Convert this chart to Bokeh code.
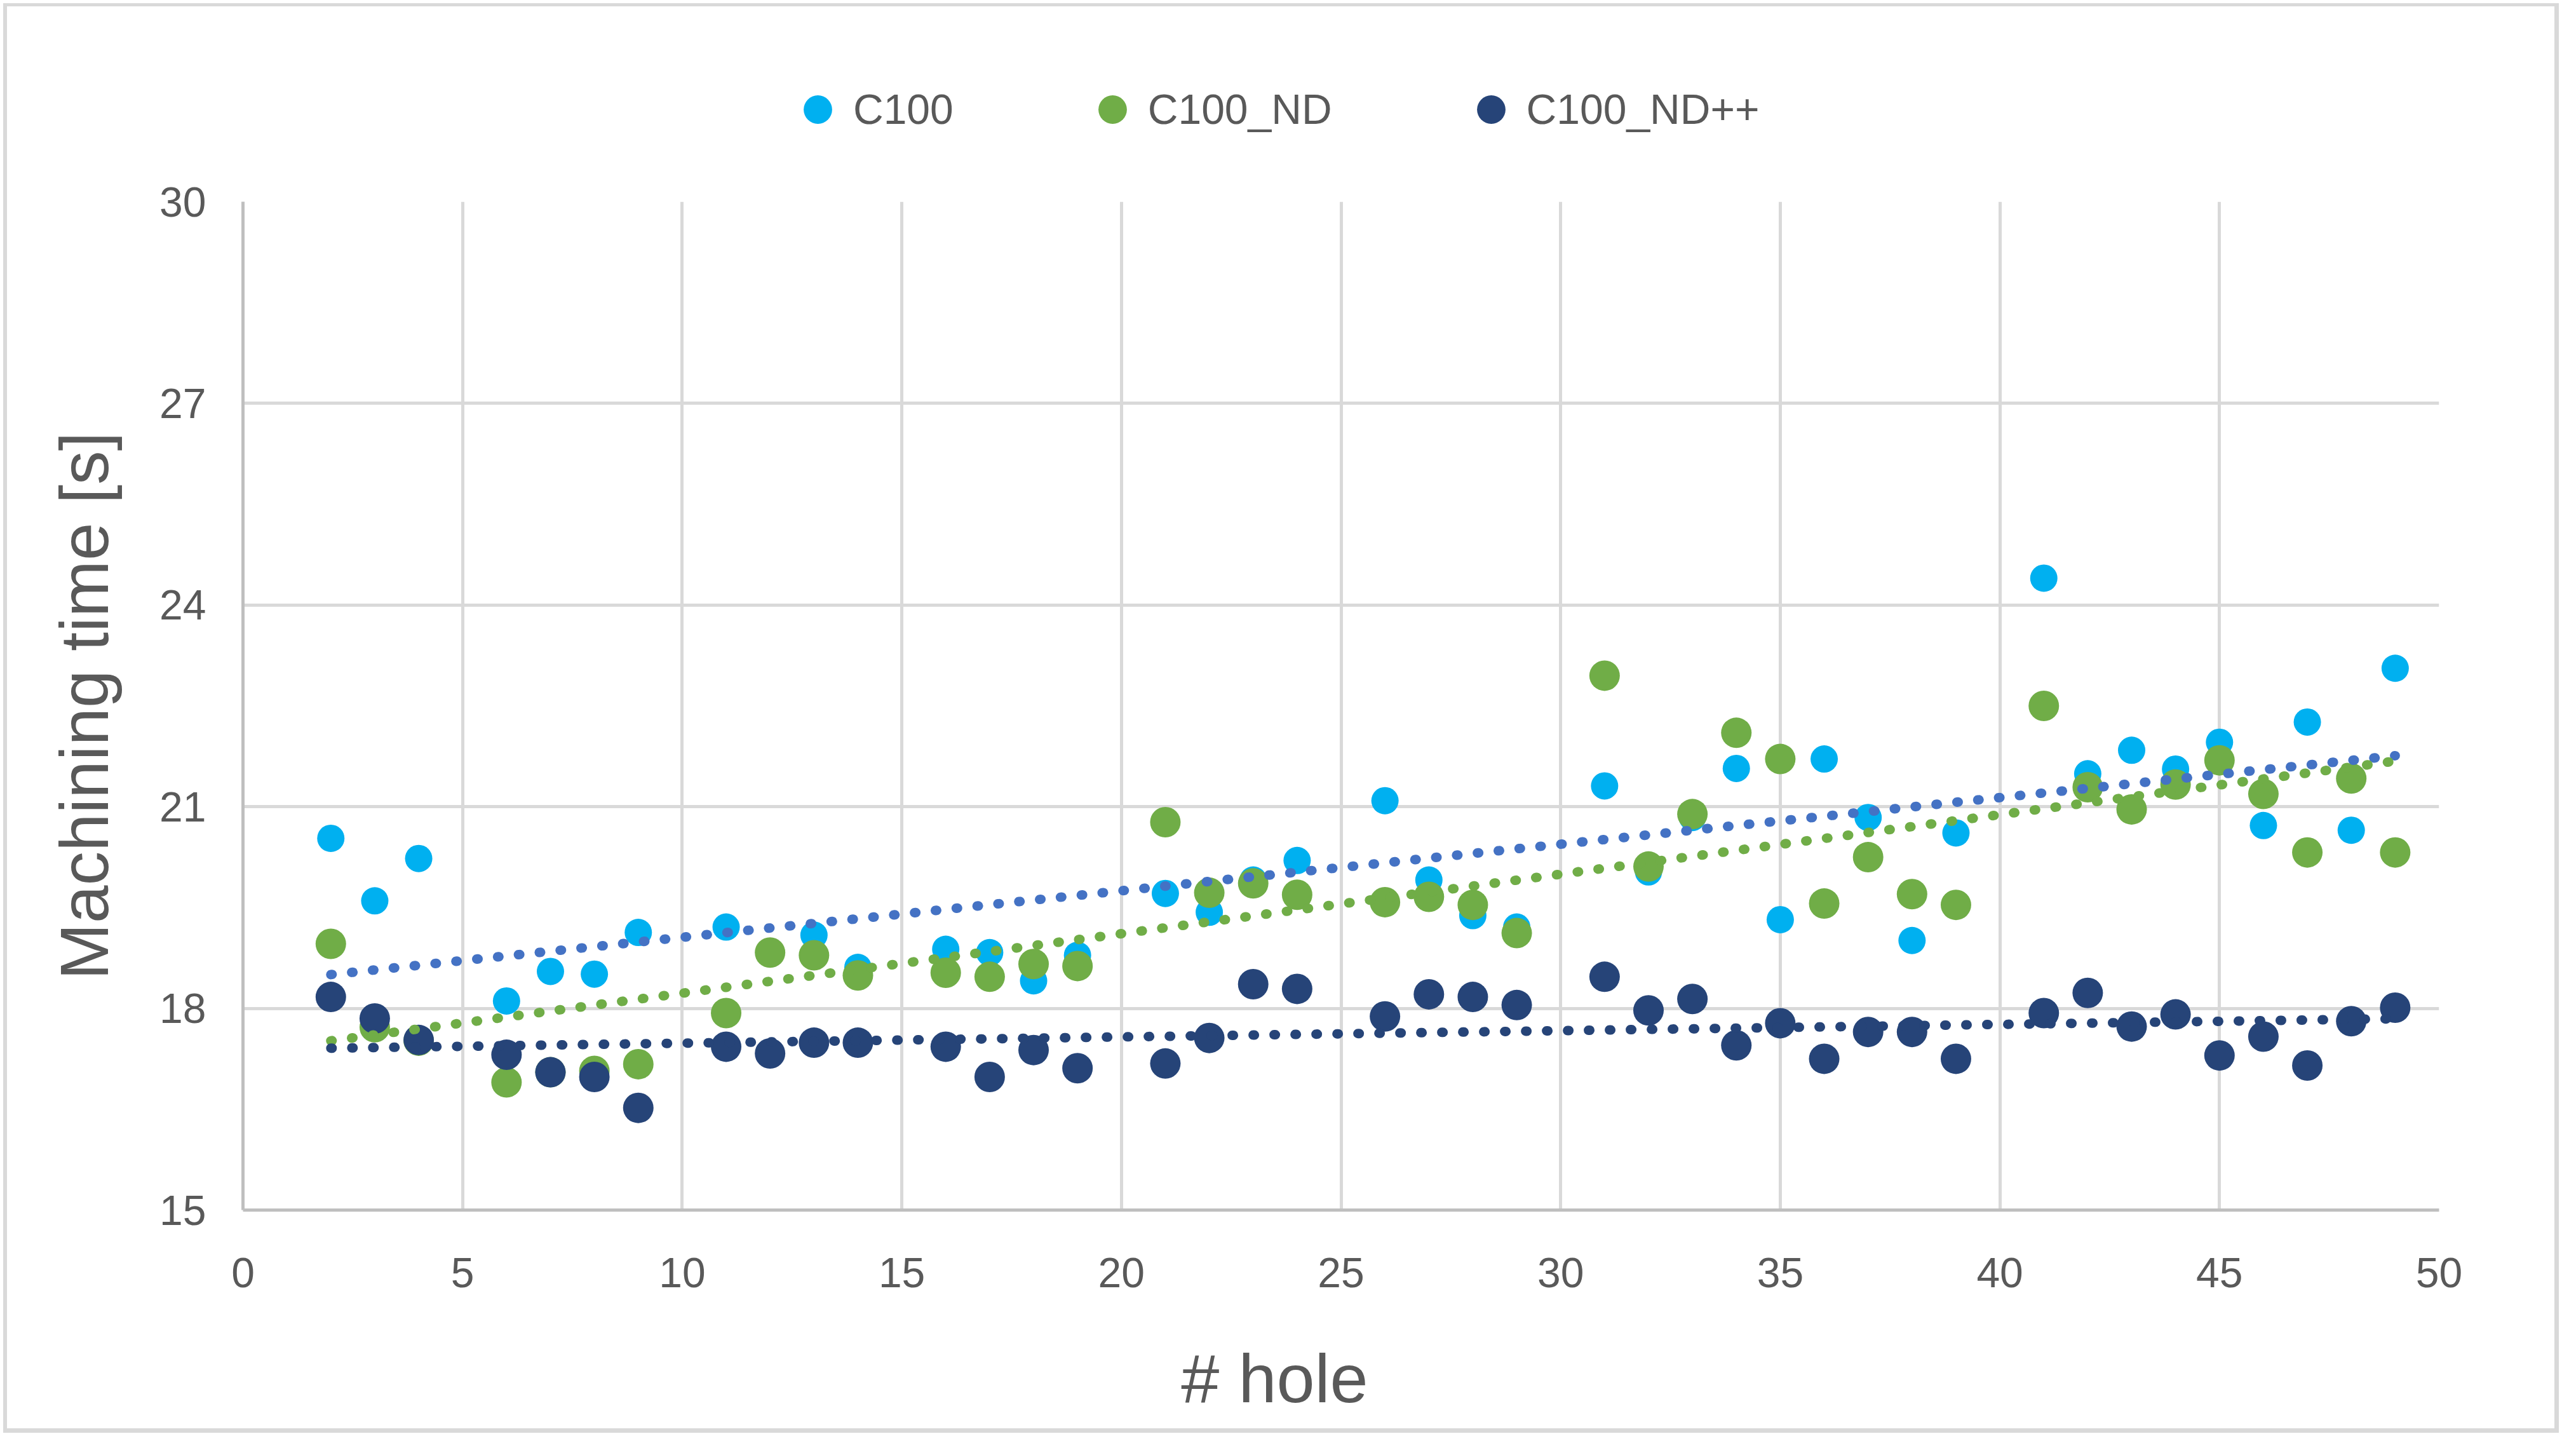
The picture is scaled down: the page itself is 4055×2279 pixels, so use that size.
import numpy as np
from bokeh.plotting import figure
from bokeh.layouts import column
from bokeh.models import Legend, LegendItem, Label, FixedTicker, Range1d
from bokeh.embed import file_html
from bokeh.resources import INLINE

# ---------------- data ----------------
holes_c100 = [2, 3, 4, 6, 7, 8, 9, 11, 13, 14, 16, 17, 18, 19, 21, 22, 23, 24,
              26, 27, 28, 29, 31, 32, 33, 34, 35, 36, 37, 38, 39, 41, 42, 43, 44,
              45, 46, 47, 48, 49]
time_c100 = [20.53, 19.60, 20.23, 18.11, 18.55, 18.51, 19.13, 19.21, 19.09, 18.61,
             18.88, 18.83, 18.41, 18.79, 19.71, 19.43, 19.91, 20.20, 21.09, 19.91,
             19.38, 19.21, 21.31, 20.03, 20.84, 21.57, 19.32, 21.71, 20.84, 19.01,
             20.61, 24.40, 21.49, 21.84, 21.56, 21.96, 20.72, 22.26, 20.65, 23.06]

holes_nd = [2, 3, 4, 6, 7, 8, 9, 11, 12, 13, 14, 16, 17, 18, 19, 21, 22, 23, 24,
            26, 27, 28, 29, 31, 32, 33, 34, 35, 36, 37, 38, 39, 41, 42, 43, 44,
            45, 46, 47, 48, 49]
time_nd = [18.96, 17.72, 17.52, 16.90, 17.05, 17.07, 17.17, 17.93, 18.83, 18.79,
           18.49, 18.53, 18.47, 18.66, 18.63, 20.77, 19.72, 19.86, 19.69, 19.58,
           19.66, 19.54, 19.12, 22.95, 20.11, 20.89, 22.10, 21.71, 19.56, 20.25,
           19.70, 19.54, 22.50, 21.29, 20.96, 21.33, 21.69, 21.19, 20.32, 21.42,
           20.32]

holes_ndpp = [2, 3, 4, 6, 7, 8, 9, 11, 12, 13, 14, 16, 17, 18, 19, 21, 22, 23, 24,
              26, 27, 28, 29, 31, 32, 33, 34, 35, 36, 37, 38, 39, 41, 42, 43, 44,
              45, 46, 47, 48, 49]
time_ndpp = [18.17, 17.85, 17.53, 17.31, 17.05, 16.98, 16.52, 17.43, 17.33, 17.49,
             17.49, 17.43, 16.98, 17.38, 17.11, 17.18, 17.56, 18.36, 18.29, 17.88,
             18.21, 18.17, 18.05, 18.47, 17.97, 18.14, 17.45, 17.78, 17.25, 17.65,
             17.65, 17.25, 17.93, 18.23, 17.73, 17.91, 17.30, 17.58, 17.15, 17.81,
             18.01]

series_names = ["C100", "C100_ND", "C100_ND++"]
x_ticks = [0, 5, 10, 15, 20, 25, 30, 35, 40, 45, 50]
y_ticks = [15, 18, 21, 24, 27, 30]
x_title = "# hole"
y_title = "Machining time [s]"

# ---------------- styles ----------------
FONT = "Liberation Sans"
TXT = "#595959"
marker_colors = ["#00B0F0", "#70AD47", "#264478"]
trend_colors = ["#4472C4", "#70AD47", "#264478"]
marker_sizes = [43, 48, 48]

W = 4039
H_LEG, H_MAIN, H_XL = 230, 1834, 196


def bare_figure(h):
    f = figure(width=W, height=h, output_backend="svg", toolbar_location=None,
               x_range=Range1d(0, 1), y_range=Range1d(0, 1),
               x_axis_type=None, y_axis_type=None, min_border=0)
    f.outline_line_color = None
    f.background_fill_color = None
    f.border_fill_color = None
    f.grid.visible = False
    return f


# ---- main chart ----
p = figure(width=W, height=H_MAIN, output_backend="svg", toolbar_location=None,
           x_range=Range1d(0, 50), y_range=Range1d(15, 30),
           min_border_left=382, min_border_right=200,
           min_border_top=87, min_border_bottom=160)
p.outline_line_color = None
p.background_fill_color = "white"
p.border_fill_color = None

for ax, ticks in ((p.xaxis, x_ticks), (p.yaxis, y_ticks)):
    ax.ticker = FixedTicker(ticks=ticks)
    ax.axis_line_color = "#BFBFBF"
    ax.axis_line_width = 5
    ax.major_tick_line_color = None
    ax.minor_tick_line_color = None
    ax.major_tick_out = 0
    ax.major_tick_in = 0
    ax.major_label_text_font = FONT
    ax.major_label_text_font_size = "66px"
    ax.major_label_text_color = TXT
p.xaxis.major_label_standoff = 75
p.yaxis.major_label_standoff = 58

p.yaxis.axis_label = y_title
p.yaxis.axis_label_text_font = FONT
p.yaxis.axis_label_text_font_size = "107px"
p.yaxis.axis_label_text_font_style = "normal"
p.yaxis.axis_label_text_color = TXT
p.yaxis.axis_label_standoff = 55

p.grid.grid_line_color = "#D9D9D9"
p.grid.grid_line_width = 5
p.xgrid.ticker = FixedTicker(ticks=x_ticks)
p.ygrid.ticker = FixedTicker(ticks=y_ticks)

xs_all = [holes_c100, holes_nd, holes_ndpp]
ys_all = [time_c100, time_nd, time_ndpp]

for xs, ys, c, s in zip(xs_all, ys_all, marker_colors, marker_sizes):
    p.scatter(xs, ys, size=s, fill_color=c, line_color=None)

# linear trend lines (least squares), drawn over the markers
for xs, ys, c in zip(xs_all, ys_all, trend_colors):
    xa = np.array(xs, dtype=float)
    k, b = np.polyfit(xa, np.array(ys, dtype=float), 1)
    tx = [xa.min(), xa.max()]
    p.line(tx, [k * t + b for t in tx], line_color=c, line_width=15,
           line_dash="2 31", line_cap="round")

# ---- legend strip: same series, outside this strip's (empty) view ----
p_leg = bare_figure(H_LEG)
leg_renderers = [p_leg.scatter(xs, ys, size=s, fill_color=c, line_color=None)
                 for xs, ys, c, s in zip(xs_all, ys_all, marker_colors, marker_sizes)]
legend = Legend(items=[LegendItem(label=n, renderers=[r]) for n, r in zip(series_names, leg_renderers)],
                orientation="horizontal", location=(849, 2),
                glyph_width=112, glyph_height=112, label_standoff=0, spacing=194,
                padding=0, margin=0, border_line_color=None, background_fill_alpha=0,
                label_text_font=FONT, label_text_font_size="66px", label_text_color=TXT)
p_leg.add_layout(legend, "center")

# ---- x-axis title strip ----
p_xl = bare_figure(H_XL)
p_xl.add_layout(Label(x=1624, y=91, x_units="screen", y_units="screen", text=x_title,
                      text_font=FONT, text_font_size="108px", text_color=TXT,
                      text_align="center", text_baseline="alphabetic"))

G = "#D9D9D9"
shadow = ", ".join([
    "inset 5px 0 0 0 white", "inset 0 5px 0 0 white",
    "inset -11px 0 0 0 white", "inset 0 -5px 0 0 white",
    f"inset 11px 0 0 0 {G}", f"inset 0 10px 0 0 {G}",
    f"inset -18px 0 0 0 {G}", f"inset 0 -12px 0 0 {G}",
])
layout = column(p_leg, p, p_xl, spacing=0,
                styles={"background-color": "white", "box-shadow": shadow})

open("out.html", "w").write(file_html(layout, INLINE))
